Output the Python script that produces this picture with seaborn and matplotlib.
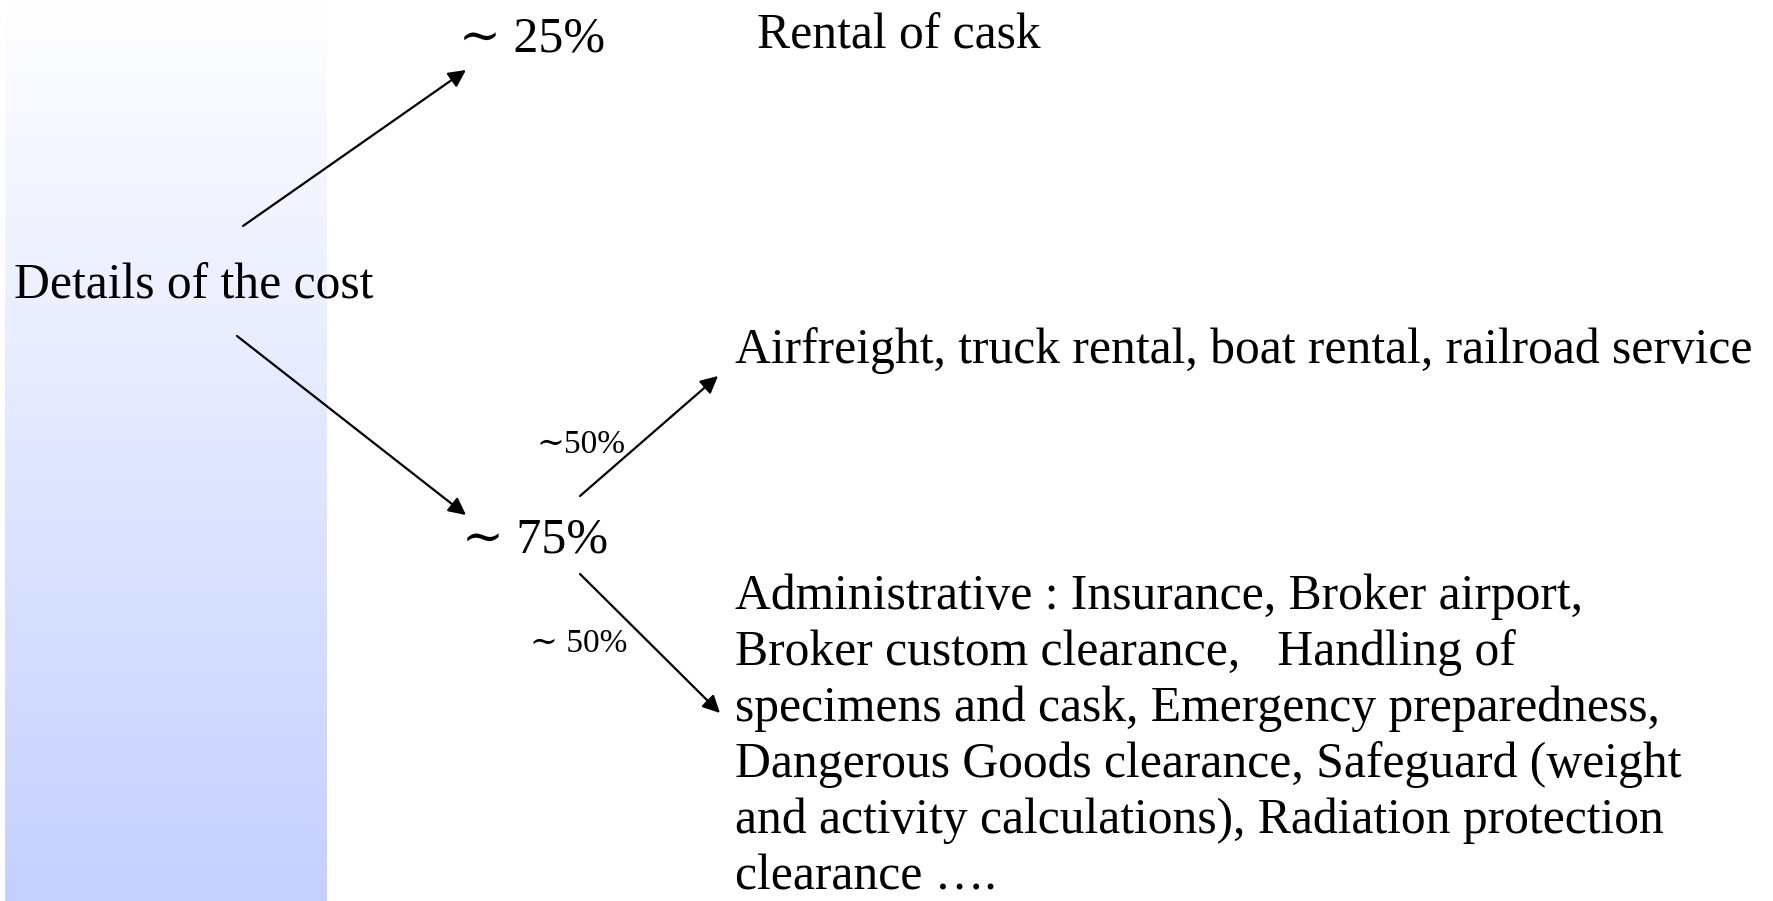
import numpy as np
import seaborn as sns
import matplotlib.pyplot as plt

sns.set_theme(style="white")
plt.rcParams['font.family'] = ['Liberation Serif', 'DejaVu Serif']
plt.rcParams['text.color'] = 'black'

# labels of the cost tree
root_label = "Details of the cost"
share_labels = ["\u223c 25%", "\u223c 75%"]
split_labels = ["\u223c50%", "\u223c 50%"]
rental_label = "Rental of cask"
transport_label = "Airfreight, truck rental, boat rental, railroad service"
admin_lines = [
    "Administrative : Insurance, Broker airport,",
    "Broker custom clearance,   Handling of",
    "specimens and cask, Emergency preparedness,",
    "Dangerous Goods clearance, Safeguard (weight",
    "and activity calculations), Radiation protection",
    "clearance \u2026.",
]

# layout in figure pixels (x, y from top)
W, H = 1773, 901
root_xy = (14, 286)
share_xy = [(459, 39), (462, 540)]
split_xy = [(536, 445), (530, 644)]
rental_xy = (757, 36)
transport_xy = (735, 351)
admin_x = 735
admin_y0, admin_dy = 597, 56
arrows = [
    ((243, 226), (466, 70)),
    ((237, 336), (466, 515)),
    ((580, 496), (718, 376)),
    ((580, 574), (720, 713)),
]

fig = plt.figure(figsize=(W / 100, H / 100), dpi=100)
ax = fig.add_axes([0, 0, 1, 1])
ax.set_xlim(0, W)
ax.set_ylim(H, 0)
ax.axis('off')

# gradient band on the left
band_cmap = sns.blend_palette(["#FFFFFF", "#C4D0FF"], as_cmap=True)
ax.imshow(np.linspace(0, 1, 256).reshape(-1, 1), cmap=band_cmap,
          extent=(5, 327, H, 0), aspect='auto', zorder=0)

big = 35.7
ax.text(*root_xy, root_label, fontsize=big, va='center', ha='left')
for (x, y), lab in zip(share_xy, share_labels):
    ax.text(x, y, lab, fontsize=36, va='center', ha='left')
for (x, y), lab in zip(split_xy, split_labels):
    ax.text(x, y, lab, fontsize=24, va='center', ha='left')
ax.text(*rental_xy, rental_label, fontsize=big, va='center', ha='left')
ax.text(*transport_xy, transport_label, fontsize=big, va='center', ha='left')
for i, line in enumerate(admin_lines):
    ax.text(admin_x, admin_y0 + i * admin_dy, line, fontsize=big,
            va='center', ha='left')

for start, end in arrows:
    ax.annotate('', xy=end, xytext=start,
                arrowprops=dict(arrowstyle='-|>', color='black', lw=1.6,
                                mutation_scale=26, shrinkA=0, shrinkB=0))

fig.savefig('out.png', dpi=100)
